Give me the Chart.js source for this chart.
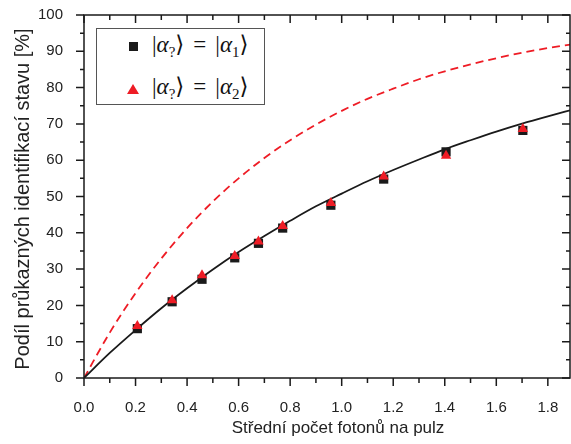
<!DOCTYPE html>
<html>
<head>
<meta charset="utf-8">
<script src="https://cdn.jsdelivr.net/npm/chart.js@4"></script>
<style>
body{margin:0;background:#fff;}
#wrap{position:relative;width:571px;height:444px;}
#key{position:absolute;left:96px;top:28px;width:167px;height:75px;border:1px solid #555;background:#fff;
 font-family:'Liberation Serif','DejaVu Serif',serif;font-size:23px;color:#111;}
#key .txt{position:absolute;left:55px;white-space:nowrap;line-height:26px;}
#key sub{font-size:15px;vertical-align:-5px;line-height:0;}
#key .eq{margin:0 9px;}
#key .sq{position:absolute;left:32px;top:13px;width:9px;height:9px;background:#1a1a1a;}
#key .tri{position:absolute;left:30px;top:55px;width:0;height:0;border-left:6px solid transparent;border-right:6px solid transparent;border-bottom:10px solid #ee1c25;}
</style>
</head>
<body>
<div id="wrap">
<canvas id="chart" width="571" height="444"></canvas>
<div id="key">
  <div class="sq"></div><div class="txt" style="top:3px">|<i>α</i><sub>?</sub>⟩<span class="eq">=</span>|<i>α</i><sub>1</sub>⟩</div>
  <div class="tri"></div><div class="txt" style="top:45px">|<i>α</i><sub>?</sub>⟩<span class="eq">=</span>|<i>α</i><sub>2</sub>⟩</div>
</div>
</div>
<script>
// measured points
var photonMean = [0.207, 0.342, 0.458, 0.585, 0.677, 0.771, 0.958, 1.163, 1.405, 1.703];
var idAlpha1 = [13.6, 21.0, 27.2, 33.1, 37.1, 41.3, 47.6, 54.8, 62.3, 68.2];
var idAlpha2 = [14.3, 21.4, 28.3, 33.6, 37.6, 41.9, 48.2, 55.5, 61.2, 68.6];

// curves
var curveX = [0, 0.1, 0.2, 0.3, 0.4, 0.5, 0.6, 0.7, 0.8, 0.9, 1.0, 1.1, 1.2, 1.3, 1.4, 1.5, 1.6, 1.7, 1.8, 1.9];
var theoryFit = [0, 6.9, 13.2, 19.2, 24.7, 29.9, 34.7, 39.1, 43.3, 47.3, 50.8, 54.2, 57.3, 60.2, 63.0, 65.5, 67.9, 70.1, 72.1, 74.0];
var idealLimit = [0, 12.5, 23.4, 32.9, 41.3, 48.6, 55.0, 60.6, 65.5, 69.8, 73.6, 76.9, 79.7, 82.3, 84.5, 86.4, 88.1, 89.6, 90.9, 92.0];

// ticks
var xMajor = [0, 0.2, 0.4, 0.6, 0.8, 1.0, 1.2, 1.4, 1.6, 1.8];
var xMinor = [0.1, 0.3, 0.5, 0.7, 0.9, 1.1, 1.3, 1.5, 1.7];
var xTickLabels = ['0.0', '0.2', '0.4', '0.6', '0.8', '1.0', '1.2', '1.4', '1.6', '1.8'];
var yMajor = [0, 10, 20, 30, 40, 50, 60, 70, 80, 90, 100];
var yMinor = [5, 15, 25, 35, 45, 55, 65, 75, 85, 95];

var xTitle = 'Střední počet fotonů na pulz';
var yTitle = 'Podíl průkazných identifikací stavu [%]';

function pts(xs, ys){
  return xs.map(function(v, i){ return {x: v, y: ys[i]}; });
}

var frameTicks = {
  id: 'frameTicks',
  afterDraw: function(chart){
    var ctx = chart.ctx, a = chart.chartArea, x = chart.scales.x, y = chart.scales.y;
    ctx.save();
    ctx.strokeStyle = '#1a1a1a';
    ctx.lineWidth = 1.5;
    ctx.strokeRect(a.left, a.top, a.right - a.left, a.bottom - a.top);
    ctx.beginPath();
    function xt(v, len){
      var px = x.getPixelForValue(v);
      ctx.moveTo(px, a.bottom); ctx.lineTo(px, a.bottom + len);
      ctx.moveTo(px, a.top); ctx.lineTo(px, a.top + len);
    }
    function yt(v, len){
      var py = y.getPixelForValue(v);
      ctx.moveTo(a.left, py); ctx.lineTo(a.left - len, py);
      ctx.moveTo(a.right, py); ctx.lineTo(a.right - len, py);
    }
    xMajor.forEach(function(v){ xt(v, 8); });
    xMinor.forEach(function(v){ xt(v, 5); });
    yMajor.forEach(function(v){ yt(v, 8); });
    yMinor.forEach(function(v){ yt(v, 4); });
    ctx.stroke();
    // axis titles
    ctx.fillStyle = '#222';
    ctx.textAlign = 'center';
    ctx.textBaseline = 'middle';
    ctx.font = "17px 'Liberation Sans', Arial, sans-serif";
    ctx.fillText(xTitle, 338, 428);
    ctx.translate(23, 199);
    ctx.rotate(-Math.PI / 2);
    ctx.font = "20px 'Liberation Sans', Arial, sans-serif";
    ctx.fillText(yTitle, 0, 0);
    ctx.restore();
  }
};

Chart.defaults.font.family = "'Liberation Sans', Arial, sans-serif";
Chart.defaults.color = '#222';

new Chart(document.getElementById('chart'), {
  type: 'scatter',
  data: {
    datasets: [{
      label: 'alpha2',
      data: pts(photonMean, idAlpha2),
      pointStyle: 'triangle',
      pointRadius: 6,
      backgroundColor: '#ee1c25',
      borderColor: '#ee1c25',
      borderWidth: 0
    }, {
      label: 'alpha1',
      data: pts(photonMean, idAlpha1),
      pointStyle: 'rect',
      pointRadius: 6.5,
      backgroundColor: '#1a1a1a',
      borderColor: '#1a1a1a',
      borderWidth: 0
    }, {
      label: 'fit',
      data: pts(curveX, theoryFit),
      showLine: true,
      pointRadius: 0,
      borderColor: '#1a1a1a',
      borderWidth: 1.8,
      cubicInterpolationMode: 'monotone'
    }, {
      label: 'ideal',
      data: pts(curveX, idealLimit),
      showLine: true,
      pointRadius: 0,
      borderColor: '#ee1c25',
      borderWidth: 1.8,
      borderDash: [8, 5],
      cubicInterpolationMode: 'monotone'
    }]
  },
  options: {
    responsive: false,
    animation: false,
    devicePixelRatio: 1,
    layout: {autoPadding: false, padding: {left: 0, right: 1, top: 15, bottom: 0}},
    plugins: {legend: {display: false}, tooltip: {enabled: false}},
    scales: {
      x: {
        type: 'linear', min: 0, max: 1.886,
        grid: {display: false}, border: {display: false},
        afterBuildTicks: function(s){ s.ticks = xMajor.map(function(v){ return {value: v}; }); },
        afterFit: function(s){ s.height = 66; s.paddingLeft = 0; s.paddingRight = 0; },
        ticks: {
          padding: 13, maxRotation: 0, font: {size: 15},
          callback: function(v, i){ return xTickLabels[i]; }
        }
      },
      y: {
        min: 0, max: 100,
        grid: {display: false}, border: {display: false},
        afterBuildTicks: function(s){ s.ticks = yMajor.map(function(v){ return {value: v}; }); },
        afterFit: function(s){ s.width = 84; s.paddingTop = 0; s.paddingBottom = 0; },
        ticks: {padding: 13, font: {size: 15}}
      }
    }
  },
  plugins: [frameTicks]
});
</script>
</body>
</html>
